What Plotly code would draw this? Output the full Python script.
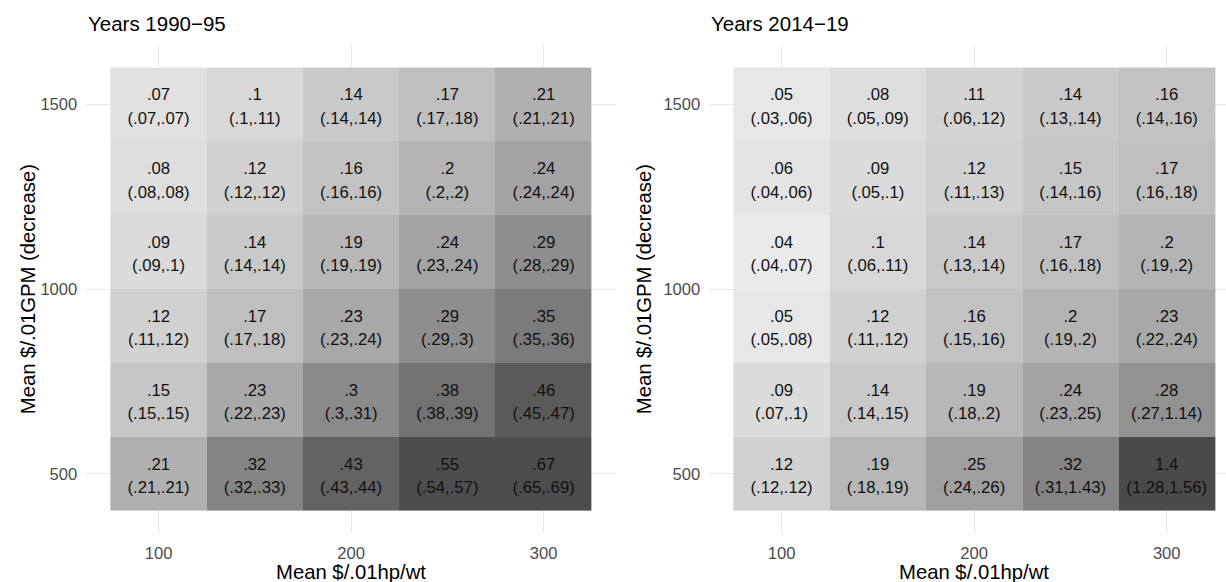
import plotly.graph_objects as go

# Grid of cell centres
hp_cost = [100, 150, 200, 250, 300]          # Mean $/.01hp/wt
gpm_cost = [500, 700, 900, 1100, 1300, 1500]  # Mean $/.01GPM (decrease)
x_ticks = [100, 200, 300]
y_ticks = [500, 1000, 1500]

# Years 1990-95: point estimates and interval bounds, rows bottom (500) to top (1500)
mean_1990 = [
    [0.21, 0.32, 0.43, 0.55, 0.67],
    [0.15, 0.23, 0.30, 0.38, 0.46],
    [0.12, 0.17, 0.23, 0.29, 0.35],
    [0.09, 0.14, 0.19, 0.24, 0.29],
    [0.08, 0.12, 0.16, 0.20, 0.24],
    [0.07, 0.10, 0.14, 0.17, 0.21],
]
low_1990 = [
    [0.21, 0.32, 0.43, 0.54, 0.65],
    [0.15, 0.22, 0.30, 0.38, 0.45],
    [0.11, 0.17, 0.23, 0.29, 0.35],
    [0.09, 0.14, 0.19, 0.23, 0.28],
    [0.08, 0.12, 0.16, 0.20, 0.24],
    [0.07, 0.10, 0.14, 0.17, 0.21],
]
high_1990 = [
    [0.21, 0.33, 0.44, 0.57, 0.69],
    [0.15, 0.23, 0.31, 0.39, 0.47],
    [0.12, 0.18, 0.24, 0.30, 0.36],
    [0.10, 0.14, 0.19, 0.24, 0.29],
    [0.08, 0.12, 0.16, 0.20, 0.24],
    [0.07, 0.11, 0.14, 0.18, 0.21],
]

# Years 2014-19
mean_2014 = [
    [0.12, 0.19, 0.25, 0.32, 1.40],
    [0.09, 0.14, 0.19, 0.24, 0.28],
    [0.05, 0.12, 0.16, 0.20, 0.23],
    [0.04, 0.10, 0.14, 0.17, 0.20],
    [0.06, 0.09, 0.12, 0.15, 0.17],
    [0.05, 0.08, 0.11, 0.14, 0.16],
]
low_2014 = [
    [0.12, 0.18, 0.24, 0.31, 1.28],
    [0.07, 0.14, 0.18, 0.23, 0.27],
    [0.05, 0.11, 0.15, 0.19, 0.22],
    [0.04, 0.06, 0.13, 0.16, 0.19],
    [0.04, 0.05, 0.11, 0.14, 0.16],
    [0.03, 0.05, 0.06, 0.13, 0.14],
]
high_2014 = [
    [0.12, 0.19, 0.26, 1.43, 1.56],
    [0.10, 0.15, 0.20, 0.25, 1.14],
    [0.08, 0.12, 0.16, 0.20, 0.24],
    [0.07, 0.11, 0.14, 0.18, 0.20],
    [0.06, 0.10, 0.13, 0.16, 0.18],
    [0.06, 0.09, 0.12, 0.14, 0.16],
]

titles = ["Years 1990\u221295", "Years 2014\u221219"]
x_title = "Mean $/.01hp/wt"
y_title = "Mean $/.01GPM (decrease)"

# Shared grey fill scale (light for small values, dark for large)
z_min, z_max = 0.04, 1.40
grey_stops = [(0.04, 234), (0.10, 216), (0.21, 176), (0.30, 138),
              (0.38, 114), (0.46, 90), (0.55, 77), (1.40, 74)]
colorscale = [[(v - z_min) / (z_max - z_min), f"rgb({g},{g},{g})"] for v, g in grey_stops]


def fmt(v):
    s = f"{v:g}"
    return s[1:] if s.startswith("0.") else s


W, H = 1226, 582
FONT = "Liberation Sans, Arial, sans-serif"
cell_font = dict(family=FONT, size=16.7, color="#111111")
clear_marker = dict(size=9, color="rgba(0,0,0,0)")

fig = go.Figure()
panels = [(mean_1990, low_1990, high_1990, "x", "y"),
          (mean_2014, low_2014, high_2014, "x2", "y2")]
for mean, low, high, xa, ya in panels:
    fig.add_trace(go.Heatmap(
        x=hp_cost, y=gpm_cost, z=mean,
        colorscale=colorscale, zmin=z_min, zmax=z_max,
        showscale=False, xgap=0, ygap=0, hoverinfo="skip",
        xaxis=xa, yaxis=ya,
    ))
    # two-line cell labels: estimate above, interval below the cell centre
    xs, ys, top_txt, bot_txt = [], [], [], []
    for yi, yv in enumerate(gpm_cost):
        for xi, xv in enumerate(hp_cost):
            xs.append(xv)
            ys.append(yv)
            top_txt.append(fmt(mean[yi][xi]))
            bot_txt.append(f"({fmt(low[yi][xi])},{fmt(high[yi][xi])})")
    fig.add_trace(go.Scatter(
        x=xs, y=ys, mode="text", text=top_txt, textposition="top center",
        textfont=cell_font, hoverinfo="skip", xaxis=xa, yaxis=ya))
    fig.add_trace(go.Scatter(
        x=xs, y=ys, mode="markers+text", text=bot_txt, textposition="bottom center",
        marker=clear_marker, textfont=cell_font, hoverinfo="skip", xaxis=xa, yaxis=ya))

# panel geometry in pixels
left_px = [(86.3, 615.9), (709.3, 1226.0)]
top_px, bot_px = 45.4, 533.1
x_ranges = [[62.5, 337.5], [62.5, 62.5 + (1226.0 - 709.3) / 1.926]]
y_range = [340, 1660]

axis_common = dict(
    showgrid=True, gridcolor="#e8e8e8", gridwidth=1, zeroline=False,
    showline=False, ticks="", tickfont=dict(family=FONT, size=16.6, color="#4d4d4d"),
    ticklabelstandoff=8,
)
ydom = [(H - bot_px) / H, (H - top_px) / H]
for i, (l, r) in enumerate(left_px):
    sx = "" if i == 0 else "2"
    fig.update_layout(**{
        f"xaxis{sx}": dict(domain=[l / W, r / W], range=x_ranges[i],
                           tickvals=x_ticks, anchor=f"y{sx}", **axis_common),
        f"yaxis{sx}": dict(domain=ydom, range=y_range, tickvals=y_ticks,
                           anchor=f"x{sx}", **axis_common),
    })

annotations = []
title_x = [86.3, 709.3]
xtitle_center = [351.1, 974.0]
ytitle_center = [28.0, 644.0]
for i in range(2):
    annotations.append(dict(
        text=titles[i], xref="paper", yref="paper",
        x=title_x[i] / W, y=(H - 24) / H, xanchor="left", yanchor="middle",
        showarrow=False, font=dict(family=FONT, size=20.5, color="#000000")))
    annotations.append(dict(
        text=x_title, xref="paper", yref="paper",
        x=xtitle_center[i] / W, y=(H - 572) / H, xanchor="center", yanchor="middle",
        showarrow=False, font=dict(family=FONT, size=20.3, color="#000000")))
    annotations.append(dict(
        text=y_title, xref="paper", yref="paper", textangle=-90,
        x=ytitle_center[i] / W, y=(H - (top_px + bot_px) / 2) / H,
        xanchor="center", yanchor="middle",
        showarrow=False, font=dict(family=FONT, size=20.3, color="#000000")))

fig.update_layout(
    width=W, height=H, margin=dict(l=0, r=0, t=0, b=0),
    paper_bgcolor="white", plot_bgcolor="white",
    showlegend=False, annotations=annotations,
)

fig.write_html("out.html")
